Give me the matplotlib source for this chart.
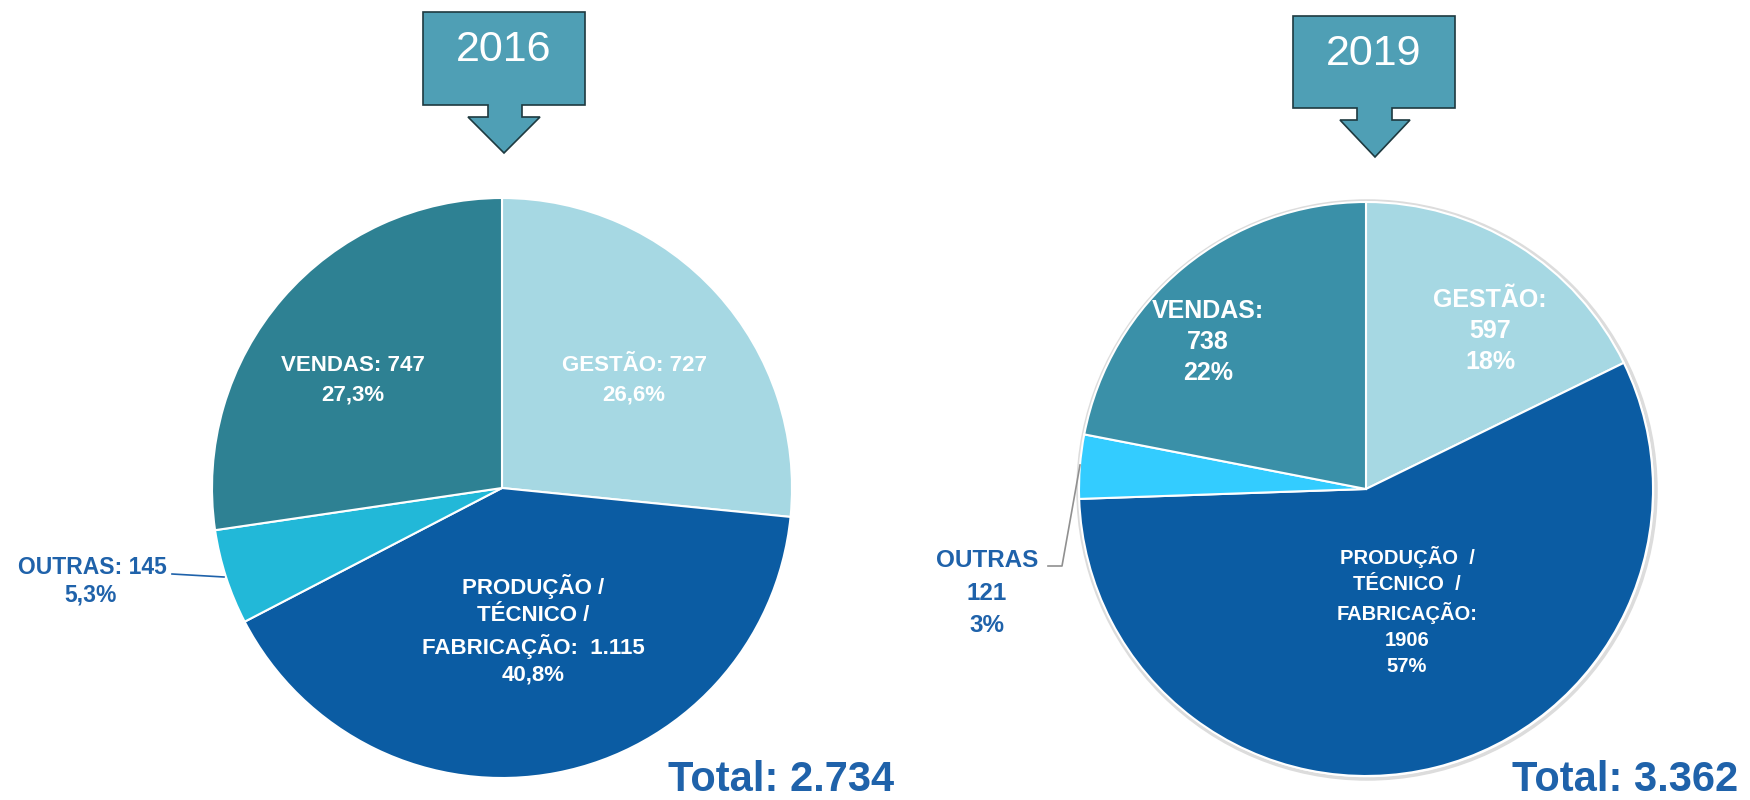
import matplotlib
matplotlib.use('Agg')
import matplotlib.pyplot as plt
from matplotlib.patches import Polygon, Circle

plt.rcParams['font.family'] = ['Liberation Sans', 'DejaVu Sans']

# data
categories = ['GESTÃO', 'PRODUÇÃO / TÉCNICO / FABRICAÇÃO', 'OUTRAS', 'VENDAS']
values_2016 = [727, 1115, 145, 747]
pct_2016 = ['26,6%', '40,8%', '5,3%', '27,3%']
values_2019 = [597, 1906, 121, 738]
pct_2019 = ['18%', '57%', '3%', '22%']
total_2016 = '2.734'
total_2019 = '3.362'

colors_2016 = ['#a6d8e3', '#0b5ca3', '#22b8d8', '#2e8193']
colors_2019 = ['#a6d8e3', '#0b5ca3', '#33ccff', '#3a90a8']
text_blue = '#1f62aa'
box_color = '#4f9fb5'

W, H = 1750, 800
fig = plt.figure(figsize=(17.5, 8), dpi=100, facecolor='white')
ax = fig.add_axes([0, 0, 1, 1])


def Y(y):
    # pixel row (from top) -> data y
    return H - y


# pies
ax.add_patch(Circle((1367, Y(490)), 289, facecolor='none', edgecolor='#dcdcdc', lw=2.5, zorder=0))
ax.pie(values_2016, colors=colors_2016, startangle=90, counterclock=False,
       center=(502, Y(488)), radius=290, frame=True,
       wedgeprops=dict(edgecolor='white', linewidth=1.5))
ax.pie(values_2019, colors=colors_2019, startangle=90, counterclock=False,
       center=(1366, Y(489)), radius=287, frame=True,
       wedgeprops=dict(edgecolor='white', linewidth=1.5))
ax.set_xlim(0, W)
ax.set_ylim(0, H)
ax.axis('off')


# year callouts
def callout(x0, x1, y0, y1, sx0, sx1, hx0, hx1, ytip, label):
    xc = (hx0 + hx1) / 2
    pts = [(x0, y0), (x1, y0), (x1, y1), (sx1, y1), (sx1, y1 + 12), (hx1, y1 + 12),
           (xc, ytip), (hx0, y1 + 12), (sx0, y1 + 12), (sx0, y1), (x0, y1)]
    ax.add_patch(Polygon([(px, Y(py)) for px, py in pts], closed=True,
                         facecolor=box_color, edgecolor='#1e3a40', lw=1.2))
    ax.text((x0 + x1) / 2, Y(y0 + 38), label, ha='center', va='center',
            color='white', fontsize=31)


callout(423, 585, 12, 105, 488, 522, 468, 540, 153, '2016')
callout(1293, 1455, 16, 108, 1357, 1392, 1340, 1410, 157, '2019')

lab = dict(ha='center', va='center', color='white', fontweight='bold')

# 2016 labels
ax.text(634, Y(380), f'{categories[0]}: {values_2016[0]}\n{pct_2016[0]}',
        fontsize=16, linespacing=1.5, **lab)
ax.text(353, Y(380), f'{categories[3]}: {values_2016[3]}\n{pct_2016[3]}',
        fontsize=16, linespacing=1.5, **lab)
ax.text(533, Y(630), 'PRODUÇÃO /\nTÉCNICO /\nFABRICAÇÃO:  1.115\n' + pct_2016[1],
        fontsize=16, linespacing=1.37, **lab)
ax.text(167, Y(567), f'{categories[2]}: {values_2016[2]}', ha='right', va='center',
        color=text_blue, fontweight='bold', fontsize=16.5)
ax.text(91, Y(595), pct_2016[2], ha='center', va='center',
        color=text_blue, fontweight='bold', fontsize=16.5)
ax.plot([172, 224], [Y(574), Y(577)], color=text_blue, lw=1.2)

# 2019 labels
ax.text(1490, Y(331), f'{categories[0]}:\n{values_2019[0]}\n{pct_2019[0]}',
        fontsize=18, linespacing=1.39, **lab)
ax.text(1208, Y(342), f'{categories[3]}:\n{values_2019[3]}\n{pct_2019[3]}',
        fontsize=18, linespacing=1.39, **lab)
ax.text(1407, Y(611), 'PRODUÇÃO  /\nTÉCNICO  /\nFABRICAÇÃO:\n' + f'{values_2019[1]}\n{pct_2019[1]}',
        fontsize=14.5, linespacing=1.45, **lab)
ax.text(987, Y(593), f'{categories[2]}\n{values_2019[2]}\n{pct_2019[2]}', ha='center', va='center',
        color=text_blue, fontweight='bold', fontsize=17.5, linespacing=1.52)
ax.plot([1048, 1062, 1080], [Y(566), Y(566), Y(465)], color='#909090', lw=1.2)

# totals
ax.text(781, Y(780), f'Total: {total_2016}', ha='center', va='center',
        color=text_blue, fontweight='bold', fontsize=30)
ax.text(1625, Y(780), f'Total: {total_2019}', ha='center', va='center',
        color=text_blue, fontweight='bold', fontsize=30)

fig.savefig('out.png', dpi=100, facecolor='white')
